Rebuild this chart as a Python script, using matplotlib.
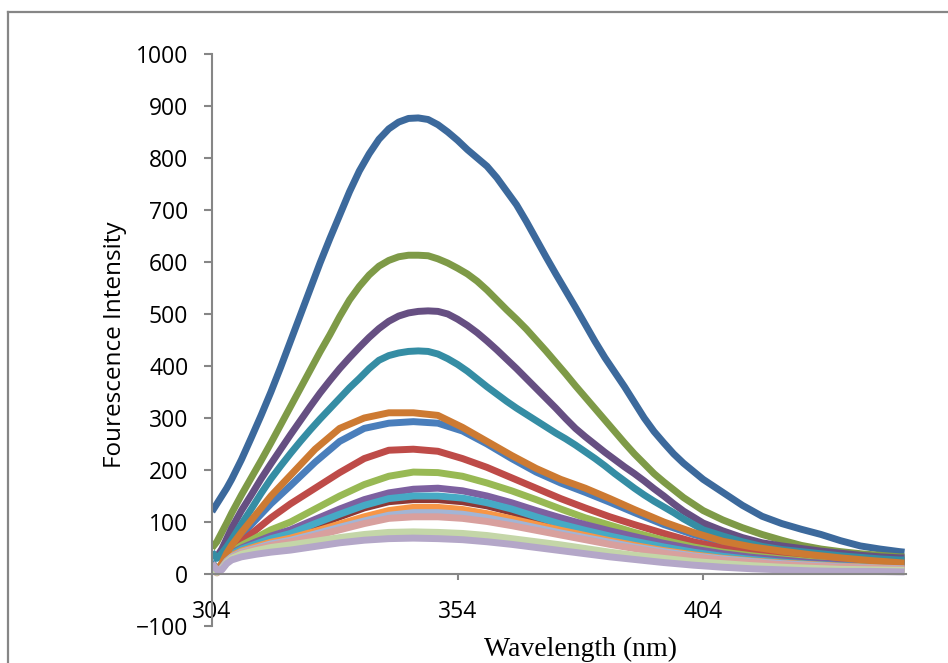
import matplotlib
matplotlib.use('Agg')
import matplotlib.pyplot as plt
from matplotlib.lines import Line2D

# wavelength grids (nm): coarse for the low curves, finer for the four tall ones
wl = [304, 305, 306, 307, 308, 310, 313, 316, 320, 325, 330, 335, 340, 345, 350, 355,
      360, 365, 370, 375, 380, 385, 390, 396, 402, 408, 414, 420, 426, 432, 438, 445]
wl_fine = ([304, 305, 306, 307, 308] + list(range(310, 401, 2))
           + list(range(404, 445, 4)) + [445])

# low curves (coarse grid)
s_blue2 = [25, 5, 20, 38, 52, 75, 105, 135, 170, 215, 255, 280, 290, 293, 290, 275,
           250, 222, 196, 175, 157, 138, 118, 95, 76, 61, 50, 42, 35, 30, 25, 20]
s_red = [15, 3, 15, 33, 45, 62, 85, 108, 135, 165, 195, 222, 238, 240, 236, 222,
         205, 185, 165, 145, 127, 110, 95, 78, 62, 50, 42, 35, 29, 25, 21, 18]
s_green2 = [18, 5, 18, 32, 42, 55, 70, 85, 100, 125, 150, 172, 188, 196, 195, 188,
            175, 160, 143, 125, 108, 94, 80, 65, 52, 42, 35, 29, 24, 20, 17, 15]
s_purple2 = [20, 5, 15, 30, 40, 50, 62, 73, 85, 105, 125, 143, 156, 163, 165, 160,
             150, 137, 122, 108, 95, 83, 72, 59, 48, 39, 32, 27, 22, 19, 16, 14]
s_darkred = [18, 3, 12, 26, 36, 45, 55, 65, 74, 92, 110, 127, 139, 143, 143, 139,
             131, 119, 105, 92, 80, 69, 60, 49, 40, 32, 26, 22, 18, 15, 13, 11]
s_cyan = [22, 5, 14, 28, 38, 48, 58, 68, 78, 97, 115, 132, 145, 150, 150, 146,
          137, 125, 110, 96, 84, 73, 63, 52, 42, 34, 28, 23, 19, 16, 14, 12]
s_orange2 = [15, 3, 12, 26, 35, 44, 53, 61, 69, 82, 96, 110, 122, 128, 128, 124,
             116, 106, 95, 84, 74, 64, 55, 45, 37, 30, 25, 21, 18, 15, 13, 11]
s_darkorange = [20, 8, 20, 40, 55, 80, 115, 150, 190, 240, 280, 300, 310, 310, 305, 282,
                255, 228, 203, 182, 165, 145, 124, 100, 80, 63, 52, 44, 37, 31, 26, 21]
s_lightblue = [18, 4, 12, 25, 33, 42, 50, 58, 65, 77, 90, 102, 113, 118, 118, 115,
               108, 99, 89, 79, 70, 61, 52, 43, 35, 29, 24, 20, 17, 14, 12, 10]
s_pink = [12, 2, 10, 23, 31, 40, 48, 55, 62, 73, 85, 97, 107, 110, 110, 107,
          101, 93, 84, 75, 66, 57, 49, 40, 33, 27, 22, 18, 15, 13, 11, 9]
s_lightgreen = [10, 3, 10, 22, 30, 38, 45, 51, 56, 63, 70, 76, 80, 81, 80, 78,
                74, 68, 62, 56, 49, 42, 36, 30, 24, 20, 16, 13, 11, 9, 8, 7]
s_lavender = [20, 8, 8, 20, 27, 33, 38, 42, 46, 53, 60, 65, 68, 69, 68, 66,
              62, 57, 51, 45, 39, 33, 28, 22, 17, 13, 10, 8, 6, 5, 5, 4]

# tall curves (fine grid)
s_darkblue = [120, 135, 150, 165, 182,
              220, 262, 305, 350, 398, 448, 498, 548, 598, 645, 690, 735, 775, 808, 836, 856,
              869, 876, 877, 874, 864, 850, 834, 816, 800, 784, 762, 736, 710, 678, 644, 610,
              577, 545, 513, 480, 447, 416, 388, 360, 330, 300, 274, 252, 231, 213,
              182, 157, 132, 111, 97, 86, 76, 64, 54, 48, 43, 42]
s_darkgreen = [50, 62, 80, 98, 117,
               152, 185, 218, 252, 287, 322, 357, 392, 427, 460, 495, 527, 553, 575, 592, 603,
               610, 613, 613, 612, 606, 598, 588, 577, 563, 546, 527, 508, 490, 471, 450, 429,
               407, 385, 362, 340, 318, 296, 274, 252, 231, 212, 193, 177, 162, 147,
               122, 104, 89, 76, 65, 55, 48, 43, 39, 36, 33, 33]
s_darkpurple = [40, 33, 48, 68, 88,
                122, 152, 183, 212, 240, 268, 295, 322, 348, 372, 395, 416, 436, 455, 472, 486,
                496, 502, 505, 506, 505, 500, 490, 478, 464, 448, 431, 413, 395, 376, 357, 338,
                319, 299, 280, 264, 249, 234, 220, 206, 193, 179, 164, 150, 135, 121,
                98, 83, 70, 60, 54, 49, 44, 40, 36, 33, 31, 31]
s_darkteal = [42, 30, 40, 52, 66,
              96, 125, 155, 183, 208, 232, 255, 277, 298, 318, 338, 358, 376, 395, 411, 420,
              425, 428, 429, 428, 423, 414, 403, 390, 375, 360, 346, 332, 319, 307, 295, 283,
              271, 260, 248, 235, 222, 208, 193, 179, 165, 152, 140, 129, 118, 106,
              85, 73, 62, 53, 47, 43, 39, 35, 32, 29, 27, 27]

# drawing order follows the spreadsheet series order
lines = [(wl, s_blue2, '#4A7EBB'), (wl, s_red, '#BE4B48'), (wl, s_green2, '#98B954'),
         (wl, s_purple2, '#7D60A0'), (wl, s_darkred, '#8C3836'), (wl, s_cyan, '#46AAC5'),
         (wl, s_orange2, '#F79646'), (wl_fine, s_darkblue, '#3C699C'),
         (wl_fine, s_darkgreen, '#7E9A47'), (wl_fine, s_darkpurple, '#664F82'),
         (wl_fine, s_darkteal, '#358DA4'), (wl, s_darkorange, '#CD7A32'),
         (wl, s_lightblue, '#A2B5D6'), (wl, s_pink, '#D8A09E'),
         (wl, s_lightgreen, '#C4D6A8'), (wl, s_lavender, '#B4A7C8')]

yticks = [-100, 0, 100, 200, 300, 400, 500, 600, 700, 800, 900, 1000]
xticks = [304, 354, 404]

plt.rcParams['font.family'] = ['Open Sans', 'DejaVu Sans']
fig = plt.figure(figsize=(9.48, 6.63), dpi=100)
ax = fig.add_axes([0.2236, 0.0558, 0.7321, 0.8628])

for x, vals, c in lines:
    ax.plot(x, vals, color=c, lw=5, solid_capstyle='butt', solid_joinstyle='round')

ax.set_xlim(304, 445.3)
ax.set_ylim(-100, 1000)
ax.set_yticks(yticks)
ax.set_xticks(xticks)

grey = '#868686'
for s in ['top', 'right']:
    ax.spines[s].set_visible(False)
ax.spines['left'].set_color(grey)
ax.spines['left'].set_linewidth(1.5)
ax.spines['bottom'].set_color(grey)
ax.spines['bottom'].set_linewidth(1.5)
ax.spines['bottom'].set_position(('data', 0))
ax.tick_params(axis='y', direction='out', length=6, width=1.5, color=grey, pad=11, labelsize=16.5)
ax.tick_params(axis='x', direction='out', length=4, width=1.5, color=grey, pad=15, labelsize=16.5)

ax.set_ylabel('Fourescence Intensity', fontsize=17.5)
ax.yaxis.set_label_coords(-0.123, 0.492)
fig.text(0.612, 0.011, 'Wavelength (nm)', family='Liberation Serif', fontsize=20,
         ha='center', va='baseline')

# outer chart border (only top and left edges are inside the crop)
fig.add_artist(Line2D([8 / 948, 1], [1 - 12 / 663, 1 - 12 / 663], transform=fig.transFigure,
                      color=grey, lw=1.6))
fig.add_artist(Line2D([8 / 948, 8 / 948], [0, 1 - 12 / 663], transform=fig.transFigure,
                      color=grey, lw=1.6))

fig.savefig('out.png', dpi=100)
